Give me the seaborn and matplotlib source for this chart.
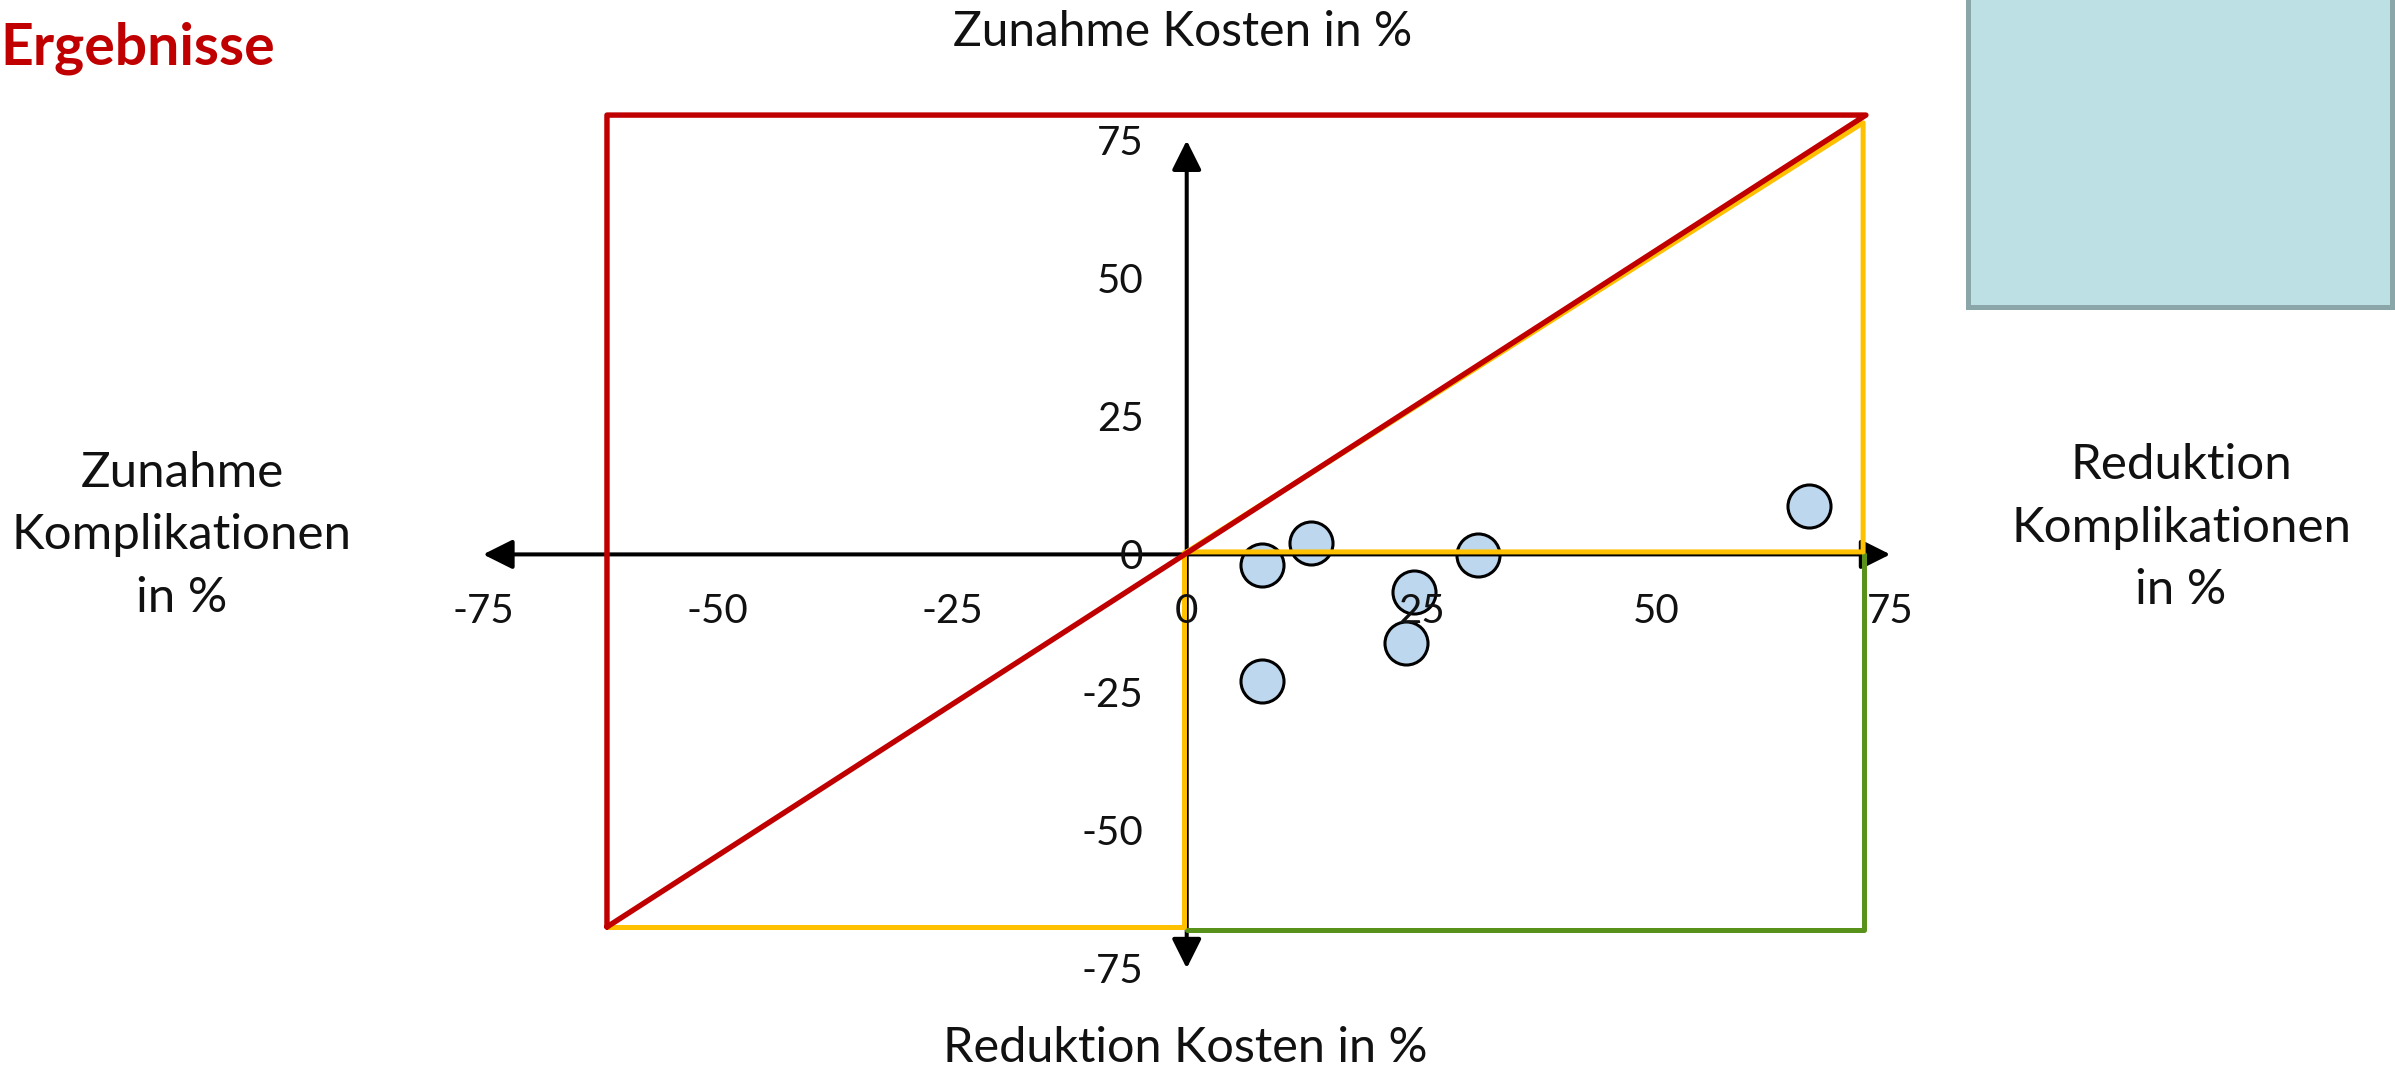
import matplotlib
matplotlib.use("Agg")
import matplotlib.pyplot as plt
from matplotlib.patches import Rectangle
import numpy as np
import pandas as pd
import seaborn as sns

# --- data -----------------------------------------------------------------
# x: Reduktion Komplikationen in %, y: Zunahme Kosten in %
reduktion_komplikationen = [8.0, 13.3, 24.2, 23.4, 31.1, 8.0, 66.3]
zunahme_kosten = [-2.0, 2.1, -6.8, -16.0, -0.1, -22.9, 8.8]

tick_values = [-75, -50, -25, 0, 25, 50, 75]
tick_labels = ["-75", "-50", "-25", "0", "25", "50", "75"]

# region outlines (corner coordinates in axis units)
red_x = [-61.8, -61.8, 72.4, -61.8]
red_y = [-67.5, 79.6, 79.6, -67.5]
yellow_upper_x = [0.0, 72.1, 72.1, 0.0]
yellow_upper_y = [0.45, 78.2, 0.45, 0.45]
yellow_lower_x = [-0.3, -0.3, -61.8]
yellow_lower_y = [0.45, -67.5, -67.5]
green_x = [0.0, 72.2, 72.2]
green_y = [-68.0, -68.0, 0.0]

title_text = "Ergebnisse"
top_label = "Zunahme Kosten in %"
bottom_label = "Reduktion Kosten in %"
left_label = ["Zunahme", "Komplikationen", "in %"]
right_label = ["Reduktion", "Komplikationen", "in %"]

# --- style ------------------------------------------------------------------
sns.set_theme(style="white")
plt.rcParams["font.family"] = ["Lato", "DejaVu Sans"]

RED = "#C00000"
YELLOW = "#FFC000"
GREEN = "#58921A"
POINT_FILL = "#BDD7EE"

fig = plt.figure(figsize=(23.95, 10.71), dpi=100)
ax = fig.add_axes([0, 0, 1, 1])

# note box in the upper right corner
ax.add_patch(Rectangle((83.3, 44.8), 45.2, 60, facecolor="#BCE0E3",
                       edgecolor="#8AA6A8", linewidth=3.6, zorder=1))

# data points
df = pd.DataFrame({"x": reduktion_komplikationen, "y": zunahme_kosten})
sns.scatterplot(data=df, x="x", y="y", ax=ax, s=960, color=POINT_FILL,
                edgecolor="black", linewidth=2.2, zorder=2, legend=False)
ax.set_xlim(-126.5, 128.8)
ax.set_ylim(-93.6, 100.45)
ax.axis("off")

# cross-shaped axes with arrowheads
arrow_style = "<|-|>,head_length=0.9,head_width=0.45"
for xy, xytext in [((75, 0), (-75, 0)), ((0, 75), (0, -75))]:
    ax.annotate("", xy=xy, xytext=xytext,
                arrowprops=dict(arrowstyle=arrow_style, mutation_scale=20,
                                lw=2.9, color="black", shrinkA=0, shrinkB=0),
                zorder=3)

# region outlines
line_kw = dict(linewidth=3.6, solid_joinstyle="round", solid_capstyle="round")
ax.plot(green_x, green_y, color=GREEN, zorder=4, **line_kw)
ax.plot(yellow_lower_x, yellow_lower_y, color=YELLOW, zorder=5, **line_kw)
ax.plot(yellow_upper_x, yellow_upper_y, color=YELLOW, zorder=5, **line_kw)
ax.plot(red_x, red_y, color=RED, zorder=6, linewidth=3.9,
        solid_joinstyle="round", solid_capstyle="round")

# tick labels along the axes
tick_fs = 29
for v, lab in zip(tick_values, tick_labels):
    ax.text(v, -12.5, lab, ha="center", va="baseline", fontsize=tick_fs,
            color="#111111", zorder=7)
    ax.text(-4.6, v - 2.6, lab, ha="right", va="baseline", fontsize=tick_fs,
            color="#111111", zorder=7)

# axis captions
ax.text(-0.4, 92.1, top_label, ha="center", va="baseline", fontsize=34.5,
        color="#111111")
ax.text(-0.2, -91.9, bottom_label, ha="center", va="baseline", fontsize=35,
        color="#111111")
for i, line in enumerate(left_label):
    ax.text(-107.1, 12.2 - i * 11.3, line, ha="center", va="baseline",
            fontsize=35.5, color="#111111")
for i, line in enumerate(right_label):
    ax.text(106.0, 13.6 - i * 11.3, line, ha="center", va="baseline",
            fontsize=35.5, color="#111111")

# slide heading
ax.text(-126.5, 88.7, title_text, ha="left", va="baseline", fontsize=41,
        fontweight="bold", color=RED)

fig.savefig("out.png", dpi=100)
